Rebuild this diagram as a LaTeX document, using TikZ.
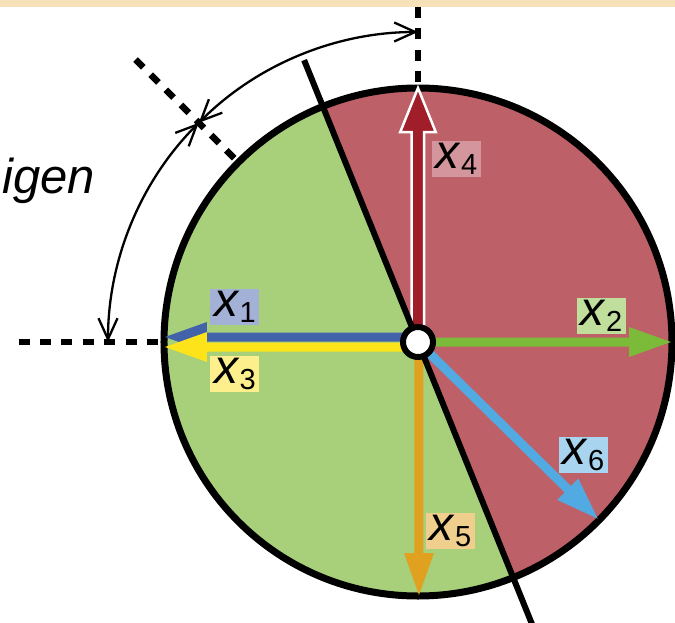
\documentclass[tikz,border=0pt]{standalone}
\usepackage{fontspec}
\setmainfont{Liberation Sans}
\usetikzlibrary{arrows.meta}
\definecolor{band}{HTML}{F6E1B9}
\definecolor{gfill}{HTML}{A8D07A}
\definecolor{rfill}{HTML}{BD6068}
\definecolor{cxa}{HTML}{4262AA}
\definecolor{cxb}{HTML}{7CBA3A}
\definecolor{cxc}{HTML}{FCE31A}
\definecolor{cxd}{HTML}{A01E2A}
\definecolor{cxe}{HTML}{E0A020}
\definecolor{cxf}{HTML}{52AAE2}
\definecolor{lxa}{HTML}{A3B1D6}
\definecolor{lxb}{HTML}{C0DE9C}
\definecolor{lxc}{HTML}{FDF08C}
\definecolor{lxd}{HTML}{D4969C}
\definecolor{lxe}{HTML}{F0CF8E}
\definecolor{lxf}{HTML}{A8D4F0}
\newcommand\xlab[1]{\textit{x}\raisebox{-6pt}{\fontsize{29}{29}\selectfont #1}}
% colour, angle, length, lateral offset
\newcommand\vecarrow[4]{%
  \fill[#1, rotate=#2] (0,{#4-4.5}) -- ({#3-42},{#4-4.5}) -- ({#3-42},{#4-15})
    -- (#3,#4) -- ({#3-42},{#4+15}) -- ({#3-42},{#4+4.5}) -- (0,{#4+4.5}) -- cycle;}
\tikzset{
  lab/.style={inner sep=0pt, minimum width=49pt, minimum height=36pt,
    font=\fontsize{48}{48}\selectfont},
  guide/.style={line width=6.5pt, dash pattern=on 11pt off 10.4pt},
  anglearc/.style={line width=2.3pt, {Straight Barb[length=21pt,width=19pt]}-{Straight Barb[length=21pt,width=19pt]}}
}
\begin{document}
\begin{tikzpicture}[x=1pt,y=1pt]
\useasboundingbox (-418,-280) rectangle (257,342);
\clip (-418,-280) rectangle (257,342);
% half disks
\fill[gfill] (0,0) -- (112:254) arc[start angle=112, end angle=292, radius=254] -- cycle;
\fill[rfill] (0,0) -- (292:254) arc[start angle=292, end angle=472, radius=254] -- cycle;
\draw[line width=7pt] (0,0) circle[radius=254];
% guides
\coordinate (c) at (0,0);
\draw[guide] (180:260) -- (180:400);
\draw[guide] (135:260) -- (135:401);
\draw[guide] (90:260) -- (90:350);
\draw[anglearc] (180:310) arc[start angle=180, end angle=135, radius=310];
\draw[anglearc] (135:310) arc[start angle=135, end angle=90, radius=310];
% vectors
\vecarrow{cxa}{180}{253}{-5}
\vecarrow{cxc}{180}{253}{5}
\vecarrow{cxb}{0}{253}{0}
\vecarrow{cxe}{-90}{253}{1}
\vecarrow{cxf}{-44.5}{252}{0}
\filldraw[fill=cxd, draw=white, line width=2.5pt, line join=miter]
  (-6.25,0) -- (-6.25,210) -- (-17.75,210) -- (0,254) -- (17.75,210) -- (6.25,210) -- (6.25,0) -- cycle;
% divider
\draw[line width=6pt] (292:310) -- (112:304);
% centre
\draw[fill=white, line width=6pt] (c) circle[radius=15];
% labels
\node[lab, fill=lxa] (l1) at (-183,35) {\xlab{1}};
\node[lab, fill=lxc] (l3) at (-183,-32) {\xlab{3}};
\node[lab, fill=lxd] (l4) at (38.5,183) {\xlab{4}};
\node[lab, fill=lxe] (l5) at (32.5,-188.5) {\xlab{5}};
\node[lab, fill=lxb] (l2) at (183.5,26) {\xlab{2}};
\node[lab, fill=lxf] (l6) at (165.5,-113) {\xlab{6}};
\node[anchor=base west, inner sep=0pt, font=\fontsize{49}{49}\selectfont\itshape] (tx) at (-416,149) {igen};
% top band
\fill[band] (-418,335) rectangle (257,342);
\end{tikzpicture}
\end{document}
